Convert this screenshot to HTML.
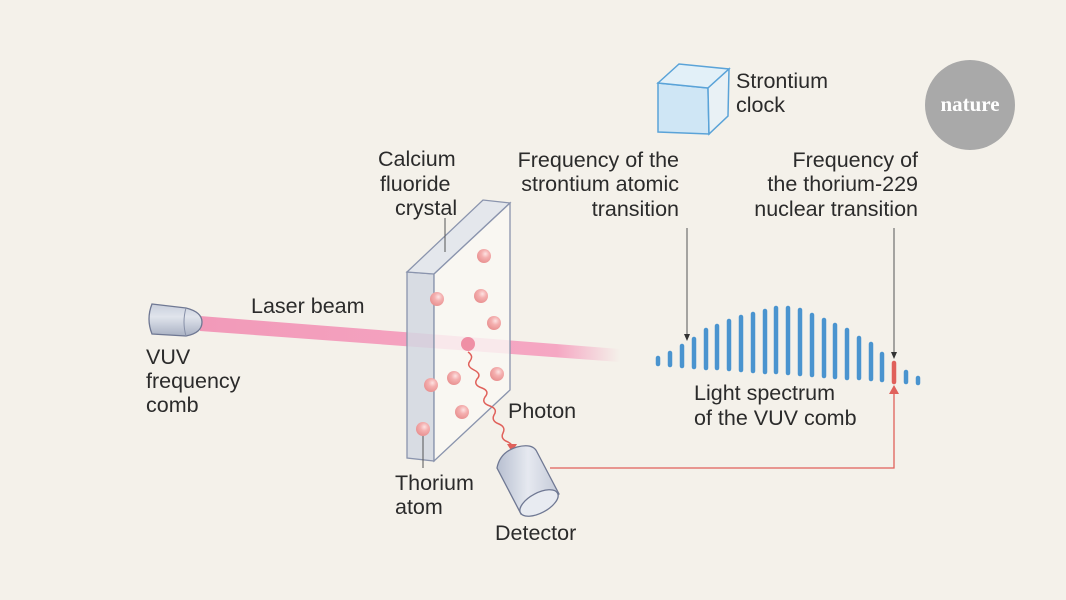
<!DOCTYPE html>
<html><head><meta charset="utf-8"><style>
html,body{margin:0;padding:0;background:#f4f1ea}
svg{display:block}
text{font-family:"Liberation Sans",sans-serif;font-size:21.5px;fill:#2b2b2b}
</style></head><body>
<svg width="1066" height="600" viewBox="0 0 1066 600" xmlns="http://www.w3.org/2000/svg">
<defs>
<linearGradient id="beam" x1="0" x2="1" y1="0" y2="0">
<stop offset="0" stop-color="#f29ab9"/><stop offset="0.85" stop-color="#f5a7c3"/><stop offset="1" stop-color="#f5a7c3" stop-opacity="0"/></linearGradient>
<linearGradient id="metal" x1="0" x2="0" y1="0" y2="1">
<stop offset="0" stop-color="#c9cfdc"/><stop offset="0.4" stop-color="#e0e4ec"/><stop offset="1" stop-color="#a9b1c3"/></linearGradient>
<linearGradient id="det" x1="0" x2="1" y1="0" y2="0">
<stop offset="0" stop-color="#b7bfd0"/><stop offset="0.5" stop-color="#e6e9f0"/><stop offset="1" stop-color="#c3c9d7"/></linearGradient>
<radialGradient id="atom" cx="0.6" cy="0.35" r="0.7"><stop offset="0" stop-color="#fde3e3"/><stop offset="0.4" stop-color="#f4b0b0"/><stop offset="1" stop-color="#e88e8e"/></radialGradient>
</defs>
<rect width="1066" height="600" fill="#f4f1ea"/>
<circle cx="970" cy="105" r="45" fill="#a9a9a9"/>
<text x="970" y="111" text-anchor="middle" style="font-family:'Liberation Serif',serif;font-size:21px;fill:#fff;font-weight:bold">nature</text>
<polygon points="658,83 708,88 709,134 658,132" fill="#cfe6f5" stroke="#5aa3d8" stroke-width="1.5"/>
<polygon points="658,83 679,64 729,69 708,88" fill="#e2f0f8" stroke="#5aa3d8" stroke-width="1.5"/>
<polygon points="708,88 729,69 728,116 709,134" fill="#e9f1f5" stroke="#5aa3d8" stroke-width="1.5"/>
<text x="736" y="88">Strontium</text><text x="736" y="112">clock</text>
<polygon points="200,316 620,349 620,362 200,331" fill="url(#beam)"/>
<path d="M152,304 L186,308 Q202,312 202,322 Q202,333 186,336 L152,334 Q146,319 152,304 Z" fill="url(#metal)" stroke="#6f7893" stroke-width="1.3"/>
<path d="M186,308 Q182,322 186,336" fill="none" stroke="#8790a8" stroke-width="1"/>
<text x="146" y="364">VUV</text><text x="146" y="388">frequency</text><text x="146" y="412">comb</text>
<text x="251" y="313">Laser beam</text>
<polygon points="407,272 434,274 434,461 407,458" fill="#d2d8e2" fill-opacity="0.85" stroke="#8a94ad" stroke-width="1.3"/>
<polygon points="407,272 483,200 510,203 434,274" fill="#e4e7ec" stroke="#8a94ad" stroke-width="1.3"/>
<polygon points="434,274 510,203 510,390 434,461" fill="#faf8f4" fill-opacity="0.82" stroke="#8a94ad" stroke-width="1.3"/>
<line x1="445" y1="218" x2="445" y2="252" stroke="#555" stroke-width="1"/>
<text x="378" y="166">Calcium</text><text x="380" y="191">fluoride</text><text x="395" y="215">crystal</text>
<g fill="url(#atom)">
<circle cx="484" cy="256" r="7"/><circle cx="437" cy="299" r="7"/><circle cx="481" cy="296" r="7"/>
<circle cx="494" cy="323" r="7"/><circle cx="468" cy="344" r="7" fill="#ef8fa5"/><circle cx="497" cy="374" r="7"/>
<circle cx="454" cy="378" r="7"/><circle cx="431" cy="385" r="7"/><circle cx="462" cy="412" r="7"/>
<circle cx="423" cy="429" r="7"/></g>
<line x1="423" y1="436" x2="423" y2="468" stroke="#555" stroke-width="1"/>
<text x="395" y="490">Thorium</text><text x="395" y="514">atom</text>
<path d="M468,352 q6,4 2,9 q-4,5 4,9 q8,4 3,9 q-4,6 5,9 q8,3 3,9 q-4,6 5,9 q8,3 4,9 q-3,6 5,9 q7,3 4,9 q-3,6 5,9 q6,3 5,9" fill="none" stroke="#e0615b" stroke-width="1.5"/>
<polygon points="507,444 517,444 512,452" fill="#e0615b"/>
<text x="508" y="418">Photon</text>
<path d="M497,468 Q500,452 517,447 Q533,443 537,452 L559,494 L521,514 Z" fill="url(#det)" stroke="#6f7893" stroke-width="1.3"/>
<ellipse cx="539" cy="503" rx="21" ry="10" transform="rotate(-28 539 503)" fill="#e8ebf1" stroke="#6f7893" stroke-width="1.3"/>
<text x="495" y="540">Detector</text>
<polyline points="550,468 894,468 894,392" fill="none" stroke="#e0615b" stroke-width="1.3"/>
<polygon points="889,394 899,394 894,385" fill="#e0615b"/>
<g text-anchor="end">
<text x="679" y="167">Frequency of the</text><text x="679" y="191">strontium atomic</text><text x="679" y="216">transition</text>
<text x="918" y="167">Frequency of</text><text x="918" y="191">the thorium-229</text><text x="918" y="216">nuclear transition</text>
</g>
<line x1="687" y1="228" x2="687" y2="334" stroke="#555" stroke-width="1"/>
<polygon points="684,334 690,334 687,341" fill="#333"/>
<line x1="894" y1="228" x2="894" y2="352" stroke="#555" stroke-width="1"/>
<polygon points="891,352 897,352 894,359" fill="#333"/>
<g stroke="#4a94cf" stroke-width="4.5" stroke-linecap="round">
<line x1="658" y1="358" x2="658" y2="364"/><line x1="670" y1="353" x2="670" y2="365"/>
<line x1="682" y1="346" x2="682" y2="366"/><line x1="694" y1="339" x2="694" y2="367"/>
<line x1="706" y1="330" x2="706" y2="368"/><line x1="717" y1="326" x2="717" y2="368"/>
<line x1="729" y1="321" x2="729" y2="369"/><line x1="741" y1="317" x2="741" y2="370"/>
<line x1="753" y1="314" x2="753" y2="371"/><line x1="765" y1="311" x2="765" y2="372"/>
<line x1="776" y1="308" x2="776" y2="372"/><line x1="788" y1="308" x2="788" y2="373"/>
<line x1="800" y1="310" x2="800" y2="374"/><line x1="812" y1="315" x2="812" y2="375"/>
<line x1="824" y1="320" x2="824" y2="376"/><line x1="835" y1="325" x2="835" y2="377"/>
<line x1="847" y1="330" x2="847" y2="378"/><line x1="859" y1="338" x2="859" y2="378"/>
<line x1="871" y1="344" x2="871" y2="379"/><line x1="882" y1="354" x2="882" y2="380"/>
<line x1="906" y1="372" x2="906" y2="382"/><line x1="918" y1="378" x2="918" y2="383"/>
</g>
<line x1="894" y1="363" x2="894" y2="382" stroke="#e0615b" stroke-width="4.5" stroke-linecap="round"/>
<text x="694" y="400">Light spectrum</text><text x="694" y="425">of the VUV comb</text>
</svg>
</body></html>
